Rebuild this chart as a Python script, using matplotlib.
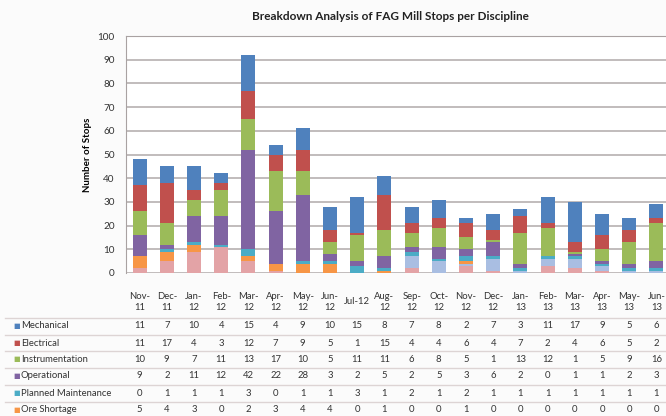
import numpy as np
import matplotlib
matplotlib.use("Agg")
import matplotlib.pyplot as plt
from matplotlib.transforms import blended_transform_factory

plt.rcParams["font.family"] = ["Lato", "DejaVu Sans"]

months = ["Nov-\n11", "Dec-\n11", "Jan-\n12", "Feb-\n12", "Mar-\n12", "Apr-\n12",
          "May-\n12", "Jun-\n12", "Jul-12", "Aug-\n12", "Sep-\n12", "Oct-\n12",
          "Nov-\n12", "Dec-\n12", "Jan-\n13", "Feb-\n13", "Mar-\n13", "Apr-\n13",
          "May-\n13", "Jun-\n13"]

mechanical = [11, 7, 10, 4, 15, 4, 9, 10, 15, 8, 7, 8, 2, 7, 3, 11, 17, 9, 5, 6]
electrical = [11, 17, 4, 3, 12, 7, 9, 5, 1, 15, 4, 4, 6, 4, 7, 2, 4, 6, 5, 2]
instrumentation = [10, 9, 7, 11, 13, 17, 10, 5, 11, 11, 6, 8, 5, 1, 13, 12, 1, 5, 9, 16]
operational = [9, 2, 11, 12, 42, 22, 28, 3, 2, 5, 2, 5, 3, 6, 2, 0, 1, 1, 2, 3]
planned_maint = [0, 1, 1, 1, 3, 0, 1, 1, 3, 1, 2, 1, 2, 1, 1, 1, 1, 1, 1, 1]
ore_shortage = [5, 4, 3, 0, 2, 3, 4, 4, 0, 1, 0, 0, 1, 0, 0, 0, 0, 0, 0, 0]
# two more series whose table rows fall below the visible picture
extra_blue = [0, 0, 0, 0, 0, 0, 0, 0, 0, 0, 5, 5, 1, 5, 1, 3, 4, 2, 1, 1]
extra_pink = [2, 5, 9, 11, 5, 1, 0, 0, 0, 0, 2, 0, 3, 1, 0, 3, 2, 1, 0, 0]

table_rows = ["Mechanical", "Electrical", "Instrumentation", "Operational",
              "Planned Maintenance", "Ore Shortage"]
table_vals = [mechanical, electrical, instrumentation, operational,
              planned_maint, ore_shortage]
row_colors = ["#4F81BD", "#C0504D", "#9BBB59", "#8064A2", "#4BACC6", "#F79646"]

# bottom to top
stack = [(extra_pink, "#E3A3A6"), (extra_blue, "#A9BEE2"),
         (ore_shortage, "#F79646"), (planned_maint, "#4BACC6"),
         (operational, "#8064A2"), (instrumentation, "#9BBB59"),
         (electrical, "#C0504D"), (mechanical, "#4F81BD")]

W, H = 666, 416
fig = plt.figure(figsize=(W / 100, H / 100), dpi=100, facecolor="#fbfbfb")
# plot area runs past the right edge, like the cropped original
ax = fig.add_axes([126 / W, 1 - 273 / H, 544 / W, 237 / H], facecolor="white")

x = np.arange(len(months))
bottom = np.zeros(len(months))
for vals, col in stack:
    ax.bar(x, vals, 0.52, bottom=bottom, color=col, zorder=3)
    bottom += np.array(vals)

ax.set_xlim(-0.5, len(months) - 0.5)
ax.set_ylim(0, 100)
ax.set_yticks(range(0, 101, 10))
ax.yaxis.grid(True, color="#b0a9a9", lw=1.1, zorder=0)
ax.set_xticks([])
ax.tick_params(axis="y", length=0, labelsize=7.2, colors="#333333", pad=8)
for s in ["right", "bottom"]:
    ax.spines[s].set_visible(False)
ax.spines["left"].set_color("#a9a2a2")
ax.spines["top"].set_color("#a9a2a2")
ax.set_ylabel("Number of Stops", fontsize=7, fontweight="bold", labelpad=4)

fig.text(390 / W, 1 - 17 / H, "Breakdown Analysis of FAG Mill Stops per Discipline",
         ha="center", va="center", fontsize=8.5, fontweight="bold", color="#222222")

# data table under the chart
tr = blended_transform_factory(ax.transData, fig.transFigure)
for i, m in enumerate(months):
    ax.text(i, 1 - 302 / H, m, transform=tr, ha="center", va="center",
            fontsize=6.8, color="#333333", linespacing=1.3, clip_on=False)

row_y = [326, 343, 359, 376, 393, 410]
for yy in [318, 335, 351, 368, 385, 402]:
    fig.add_artist(plt.Line2D([5 / W, 1], [1 - yy / H] * 2, color="#ddd4d4",
                              lw=1.0, transform=fig.transFigure))
for name, vals, col, yy in zip(table_rows, table_vals, row_colors, row_y):
    fy = 1 - yy / H
    fig.text(13 / W, fy, "■", color=col, fontsize=5, ha="left", va="center",
             family="DejaVu Sans")
    fig.text(21 / W, fy, name, fontsize=6.8, ha="left", va="center", color="#333333")
    for i, v in enumerate(vals):
        ax.text(i, fy, str(v), transform=tr, ha="center", va="center",
                fontsize=6.8, color="#333333", clip_on=False)

fig.savefig("out.png", dpi=100, facecolor=fig.get_facecolor())
